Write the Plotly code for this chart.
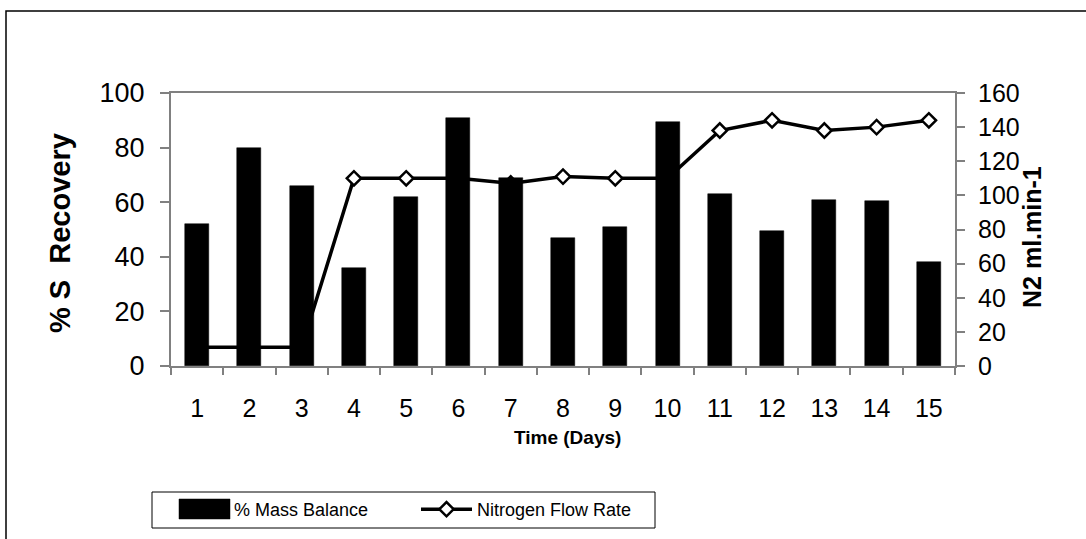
import plotly.graph_objects as go

days = list(range(1, 16))
day_labels = [str(d) for d in days]
mass_balance = [52, 80, 66, 36, 62, 90.7, 69, 47, 51, 89.3, 63, 49.3, 60.8, 60.4, 38.2]
n2_flow = [11, 11, 11, 110, 110, 110, 107, 111, 110, 110, 138, 144, 138, 140, 144]
left_ticks = [0, 20, 40, 60, 80, 100]
right_ticks = [0, 20, 40, 60, 80, 100, 120, 140, 160]

W, H = 1086, 539
L, R, T, B = 171, 955, 93, 366
pw, ph = R - L, B - T

def px(x):
    return (x - L) / pw

def py(y):
    return (B - y) / ph

FONT = "Arial, Liberation Sans, sans-serif"
AX = "#808080"

fig = go.Figure()
# line on the base axis, bars on the overlaying axis so bars are drawn above the line
fig.add_trace(go.Scatter(
    x=days, y=n2_flow, name="Nitrogen Flow Rate", mode="lines+markers",
    line=dict(color="black", width=3.5),
    marker=dict(symbol="diamond", size=11, color="white", line=dict(color="black", width=2.5)),
    xaxis="x", yaxis="y",
))
fig.add_trace(go.Bar(
    x=days, y=mass_balance, name="% Mass Balance",
    marker=dict(color="black", line=dict(color="black", width=0.5)),
    width=0.46, xaxis="x", yaxis="y2",
))

boundaries = [d - 0.5 for d in days] + [days[-1] + 0.5]

fig.update_layout(
    width=W, height=H,
    margin=dict(l=L, r=W - R, t=T, b=H - B, autoexpand=False),
    paper_bgcolor="white", plot_bgcolor="white",
    font=dict(family=FONT, color="black"),
    showlegend=True,
    bargap=0,
    xaxis=dict(
        range=[0.5, 15.5], tickvals=days, ticktext=day_labels, ticks="",
        showgrid=False, zeroline=False, showline=True, linecolor=AX, linewidth=2,
        mirror=True, tickfont=dict(size=25, family=FONT), ticklabelstandoff=19,
        minor=dict(tickvals=boundaries, ticks="outside", ticklen=7, tickcolor=AX, tickwidth=1.5, showgrid=False),
    ),
    xaxis2=dict(
        overlaying="x", range=[0.5, 15.5], tickvals=boundaries, ticks="inside", ticklen=6,
        tickcolor=AX, tickwidth=1.5, showticklabels=False, showgrid=False, zeroline=False,
        showline=False, anchor="y",
    ),
    yaxis=dict(
        range=[0, 160], tickvals=right_ticks, side="right", ticks="outside", ticklen=8,
        tickcolor=AX, tickwidth=1.5, showgrid=False, zeroline=False, showline=True,
        linecolor=AX, linewidth=2, tickfont=dict(size=25, family=FONT), ticklabelstandoff=8,
    ),
    yaxis2=dict(
        overlaying="y", range=[0, 100], tickvals=left_ticks, side="left", ticks="outside",
        ticklen=9, tickcolor=AX, tickwidth=1.5, showgrid=False, zeroline=False,
        showline=True, linecolor=AX, linewidth=2, tickfont=dict(size=27, family=FONT),
        ticklabelstandoff=10,
    ),
    yaxis3=dict(
        overlaying="y", range=[0, 100], tickvals=left_ticks, side="left", ticks="inside",
        ticklen=7, tickcolor=AX, tickwidth=1.5, showticklabels=False, showgrid=False,
        zeroline=False, showline=False,
    ),
    yaxis4=dict(
        overlaying="y", range=[0, 160], tickvals=right_ticks, side="right", ticks="inside",
        ticklen=7, tickcolor=AX, tickwidth=1.5, showticklabels=False, showgrid=False,
        zeroline=False, showline=False,
    ),
    legend=dict(
        orientation="h", x=px(173), y=py(491), xanchor="left", yanchor="top",
        font=dict(size=18, family=FONT), bgcolor="rgba(0,0,0,0)", borderwidth=0,
        itemwidth=51, entrywidth=177, traceorder="reversed",
    ),
    shapes=[
        dict(type="rect", xref="paper", yref="paper", x0=px(6), y0=py(560), x1=px(1120), y1=py(11),
             line=dict(color="black", width=1.5), fillcolor="rgba(0,0,0,0)", layer="below"),
        dict(type="rect", xref="paper", yref="paper", x0=px(152), y0=py(528), x1=px(655), y1=py(492),
             line=dict(color="black", width=1), fillcolor="rgba(0,0,0,0)", layer="below"),
        # wide legend swatch for the bar series, as in the original
        dict(type="rect", xref="paper", yref="paper", x0=px(179), y0=py(519), x1=px(230), y1=py(499),
             line=dict(color="black", width=0.5), fillcolor="black", layer="above"),
    ],
    annotations=[
        dict(text="<b>% S  Recovery</b>", xref="paper", yref="paper", x=px(60), y=py(233),
             xanchor="center", yanchor="middle", textangle=-90, showarrow=False,
             font=dict(size=29, family=FONT)),
        dict(text="<b>N2 ml.min-1</b>", xref="paper", yref="paper", x=px(1032), y=py(237),
             xanchor="center", yanchor="middle", textangle=-90, showarrow=False,
             font=dict(size=25, family=FONT)),
        dict(text="<b>Time (Days)</b>", xref="paper", yref="paper", x=px(567), y=py(437),
             xanchor="center", yanchor="middle", showarrow=False,
             font=dict(size=19, family=FONT)),
    ],
)

fig.write_html("out.html")
